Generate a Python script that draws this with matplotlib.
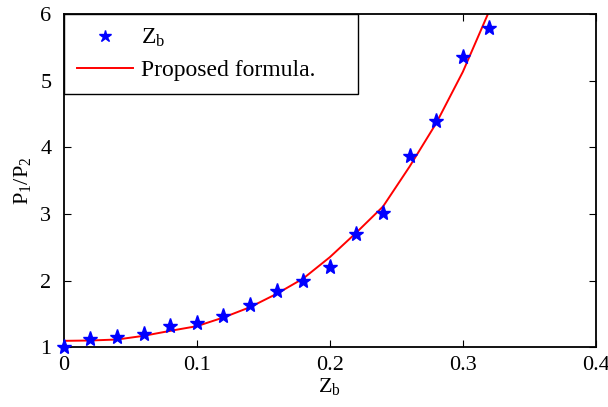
import numpy as np
import matplotlib
matplotlib.use('Agg')
import matplotlib.pyplot as plt

plt.rcParams['font.family'] = ['Liberation Serif', 'DejaVu Serif']
plt.rcParams['mathtext.fontset'] = 'custom'
plt.rcParams['mathtext.rm'] = 'Liberation Serif'
plt.rcParams['mathtext.default'] = 'regular'

# measured points
zb = [0, 0.02, 0.04, 0.06, 0.08, 0.10, 0.12, 0.14, 0.16, 0.18, 0.20, 0.22, 0.24, 0.26, 0.28, 0.30, 0.32]
ratio = [1.0, 1.13, 1.155, 1.2, 1.315, 1.365, 1.465, 1.63, 1.845, 2.0, 2.205, 2.70, 3.01, 3.87, 4.40, 5.35, 5.785]
# proposed formula curve
formula = [1.095, 1.1, 1.115, 1.17, 1.245, 1.315, 1.445, 1.6, 1.8, 2.03, 2.35, 2.72, 3.11, 3.71, 4.36, 5.13, 6.05]

fig = plt.figure(figsize=(6.08, 4.07), dpi=100)
ax = fig.add_axes([0.105, 0.147, 0.875, 0.819])

ax.plot(zb, ratio, '*', color='blue', markersize=11, label=r'$Z_b$', clip_on=False, zorder=3)
ax.plot(zb, formula, '-', color='red', linewidth=1.4, label='Proposed formula.')

ax.set_xlim(0, 0.4)
ax.set_ylim(1, 6)
ax.set_xticks([0, 0.1, 0.2, 0.3, 0.4])
ax.set_xticklabels(['0', '0.1', '0.2', '0.3', '0.4'])
ax.set_yticks([1, 2, 3, 4, 5, 6])
ax.tick_params(direction='in', top=True, right=True, labelsize=16, length=5, width=0.8)
ax.tick_params(axis='y', pad=9)
ax.tick_params(axis='x', pad=6)
for s in ax.spines.values():
    s.set_linewidth(1.3)

ax.set_xlabel(r'$Z_b$', fontsize=16, labelpad=1)
ax.set_ylabel(r'$P_1/P_2$', fontsize=16, labelpad=5)

leg = ax.legend(loc='upper left', bbox_to_anchor=(0, 1, 294 / 532, 0), mode='expand',
                fontsize=17, numpoints=1, handlelength=2.4, handletextpad=0.3,
                borderaxespad=0, fancybox=False, framealpha=1, edgecolor='black',
                borderpad=0.55, labelspacing=0.45, markerscale=0.85)
leg.get_frame().set_linewidth(1.0)

fig.savefig('out.png', dpi=100)
